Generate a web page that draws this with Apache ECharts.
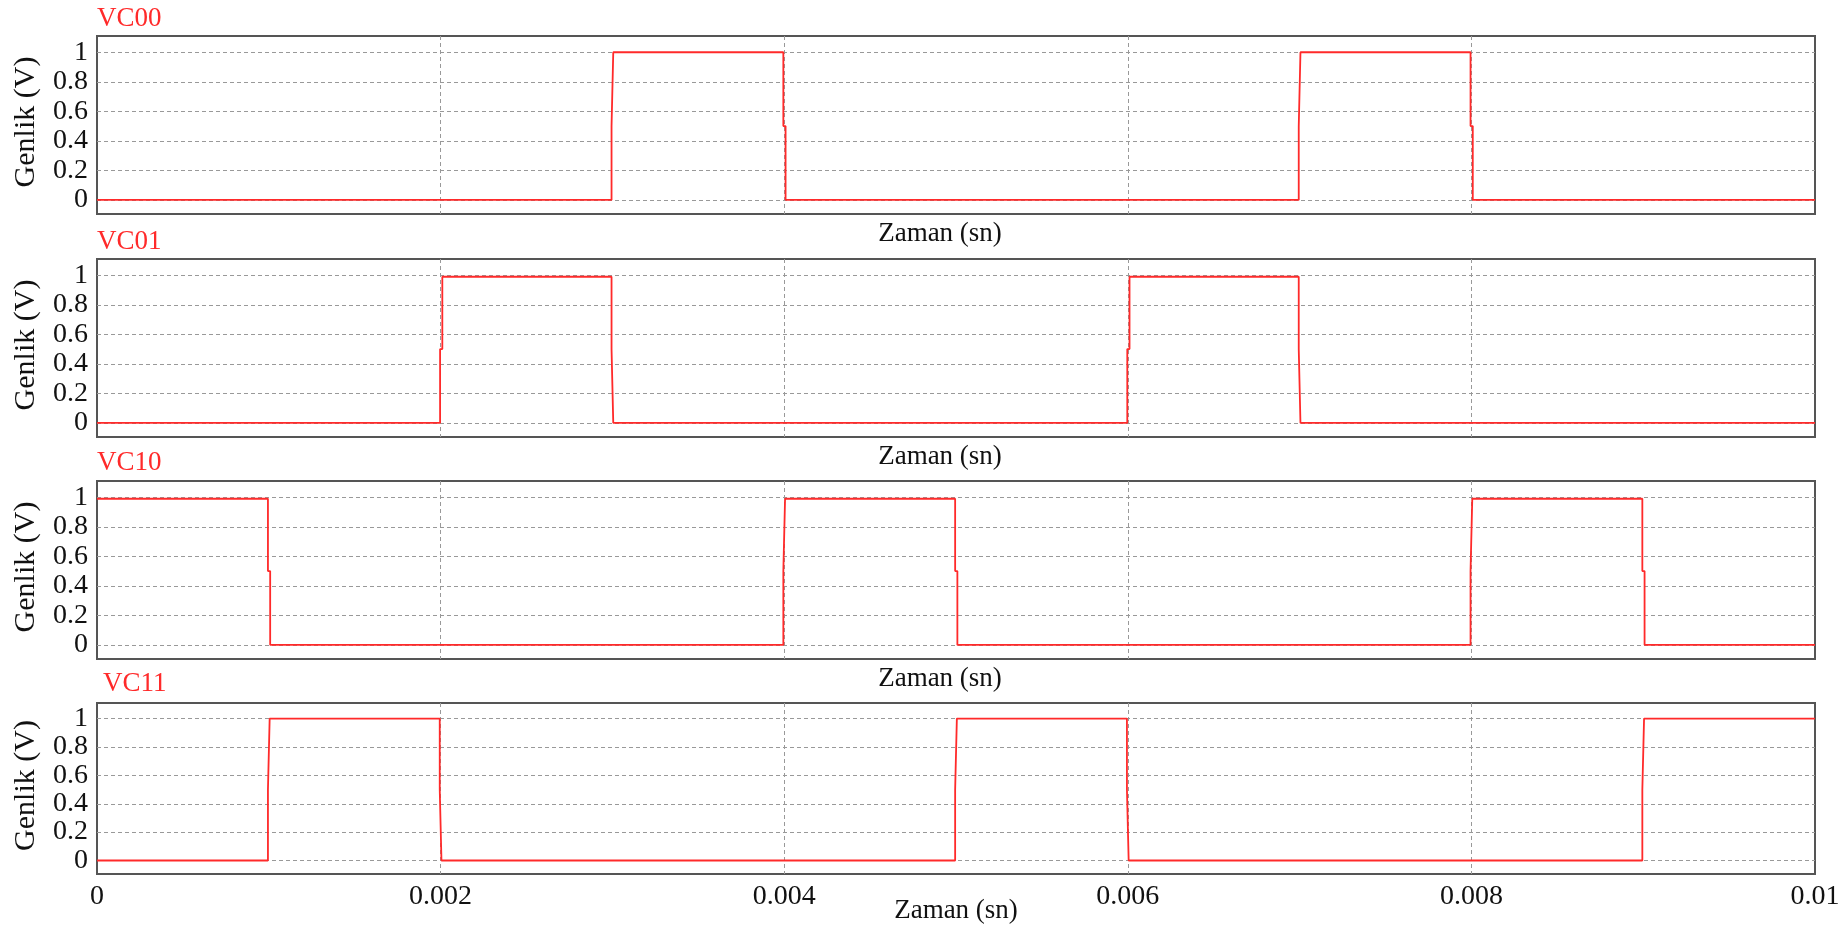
<!DOCTYPE html>
<html><head><meta charset="utf-8">
<script src="https://cdn.jsdelivr.net/npm/echarts@6/dist/echarts.min.js"></script>
<style>html,body{margin:0;padding:0;background:#fff}#c{width:1846px;height:931px}</style>
</head><body><div id="c"></div>
<script>
// ---- data ----
const panelTitles = ['VC00', 'VC01', 'VC10', 'VC11'];
const yTickValues = [0, 0.2, 0.4, 0.6, 0.8, 1];
const xAxisName = 'Zaman (sn)';
const yAxisName = 'Genlik (V)';

const vc00 = [[0,0],[0.002995,0],[0.002995,0.5],[0.003005,0.5],[0.003005,1],[0.003995,1],[0.003995,0.5],[0.004008,0.5],[0.004008,0],
  [0.006995,0],[0.006995,0.5],[0.007005,0.5],[0.007005,1],[0.007995,1],[0.007995,0.5],[0.008008,0.5],[0.008008,0],[0.01,0]];
const vc01 = [[0,0],[0.001997,0],[0.001997,0.5],[0.00201,0.5],[0.00201,0.99],[0.002995,0.99],[0.002995,0.5],[0.003005,0.5],[0.003005,0],
  [0.005997,0],[0.005997,0.5],[0.00601,0.5],[0.00601,0.99],[0.006995,0.99],[0.006995,0.5],[0.007005,0.5],[0.007005,0],[0.01,0]];
const vc10 = [[0,0.99],[0.000995,0.99],[0.000995,0.5],[0.001008,0.5],[0.001008,0],[0.003995,0],[0.003995,0.5],[0.004005,0.5],[0.004005,0.99],
  [0.004995,0.99],[0.004995,0.5],[0.005008,0.5],[0.005008,0],[0.007995,0],[0.007995,0.5],[0.008005,0.5],[0.008005,0.99],
  [0.008995,0.99],[0.008995,0.5],[0.009008,0.5],[0.009008,0],[0.01,0]];
const vc11 = [[0,0],[0.000995,0],[0.000995,0.5],[0.001005,0.5],[0.001005,1],[0.001995,1],[0.001995,0.5],[0.002005,0.5],[0.002005,0],
  [0.004995,0],[0.004995,0.5],[0.005005,0.5],[0.005005,1],[0.005995,1],[0.005995,0.5],[0.006005,0.5],[0.006005,0],
  [0.008995,0],[0.008995,0.5],[0.009005,0.5],[0.009005,1],[0.01,1]];
const seriesData = [vc00, vc01, vc10, vc11];

// ---- layout / style ----
const FONT = 'Liberation Serif';
const gridTops = [36, 259, 481, 703];
const gridHeights = [178, 178, 178, 171];
const titleTops = [5, 228, 449, 670];
const titleLefts = [97, 97, 97, 103];
const RED = '#ff2a2a';
const TXT = '#111';

const chart = echarts.init(document.getElementById('c'), null, {renderer: 'canvas'});
const grids = [], xAxes = [], yAxes = [], series = [], titles = [];
for (let i = 0; i < 4; i++) {
  grids.push({left: 97, right: 31, top: gridTops[i], height: gridHeights[i], show: true,
    borderColor: '#555', borderWidth: 2, backgroundColor: 'transparent'});
  xAxes.push({type: 'value', gridIndex: i, min: 0, max: 0.01, interval: 0.002,
    axisLine: {show: false}, axisTick: {show: false},
    axisLabel: {show: i === 3, fontFamily: FONT, fontSize: 28, color: TXT, margin: 9},
    splitLine: {show: true, showMinLine: false, showMaxLine: false, lineStyle: {color: '#999', type: [4, 3], width: 1}},
    name: xAxisName, nameLocation: 'middle', nameGap: i === 3 ? 23 : 6, nameMoveOverlap: false,
    nameTextStyle: {fontFamily: FONT, fontSize: 27, color: TXT, padding: [0, i === 3 ? 0 : 32, 0, 0]}});
  yAxes.push({type: 'value', gridIndex: i, min: -0.095, max: 1.11,
    axisLine: {show: false}, axisTick: {show: false, customValues: yTickValues},
    axisLabel: {customValues: yTickValues, fontFamily: FONT, fontSize: 28, color: TXT, margin: 9},
    splitLine: {show: true, lineStyle: {color: '#999', type: [4, 3], width: 1}},
    name: yAxisName, nameLocation: 'middle', nameGap: 56, nameMoveOverlap: false,
    nameTextStyle: {fontFamily: FONT, fontSize: 30, color: TXT, padding: [0, 0, 0, 6]}});
  series.push({type: 'line', xAxisIndex: i, yAxisIndex: i, data: seriesData[i],
    symbol: 'none', showSymbol: false, lineStyle: {color: RED, width: 1.8}, z: 5});
  titles.push({text: panelTitles[i], left: titleLefts[i], top: titleTops[i], padding: 0,
    textStyle: {fontFamily: FONT, fontSize: 27, fontWeight: 'normal', color: RED}});
}
chart.setOption({animation: false, backgroundColor: '#fff', title: titles, grid: grids,
  xAxis: xAxes, yAxis: yAxes, series: series});
</script>
</body></html>
